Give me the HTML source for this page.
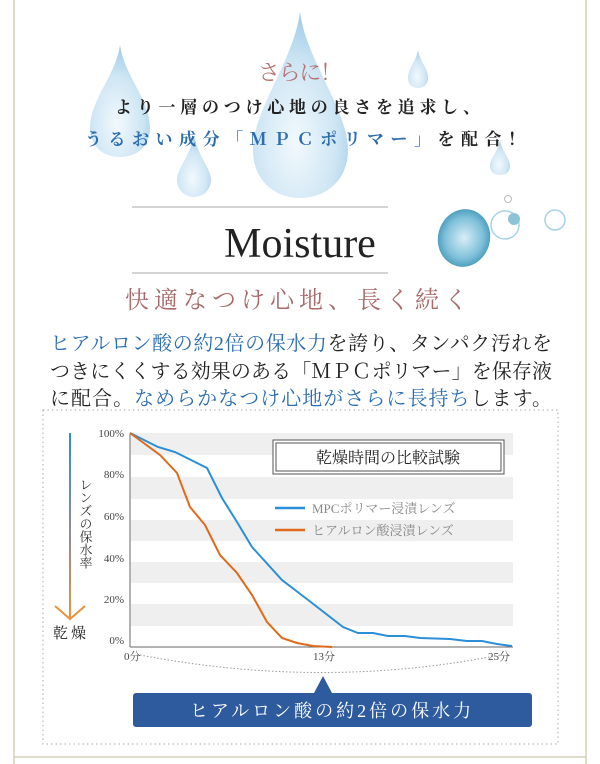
<!DOCTYPE html>
<html><head><meta charset="utf-8"><style>
html,body{margin:0;padding:0;background:#fff;width:600px;height:764px;overflow:hidden}
svg text{font-family:"Liberation Serif","Noto Serif CJK SC","Noto Sans CJK JP",serif}
</style></head><body>
<svg width="600" height="764" viewBox="0 0 600 764" xmlns="http://www.w3.org/2000/svg">
<defs>
<radialGradient id="dr" cx="0.45" cy="0.7" r="0.7">
<stop offset="0" stop-color="#f2f9fd"/><stop offset="0.6" stop-color="#cfe6f4"/><stop offset="1" stop-color="#9ccbe8"/>
</radialGradient>
<radialGradient id="bb" cx="0.5" cy="0.5" r="0.6">
<stop offset="0" stop-color="#d8eef6"/><stop offset="0.6" stop-color="#7fc0da"/><stop offset="1" stop-color="#2d87ad"/>
</radialGradient>
<linearGradient id="ar" gradientUnits="userSpaceOnUse" x1="0" y1="433" x2="0" y2="618">
<stop offset="0" stop-color="#2a8fd6"/><stop offset="0.5" stop-color="#8a8aa0"/><stop offset="1" stop-color="#e8923a"/>
</linearGradient>
</defs>
<line x1="14" y1="0" x2="14" y2="764" stroke="#d6d1bc" stroke-width="1.5"/>
<line x1="586" y1="0" x2="586" y2="764" stroke="#d6d1bc" stroke-width="1.5"/>
<line x1="14" y1="757" x2="586" y2="757" stroke="#d6d1bc" stroke-width="1.5"/>
<path d="M300 12 C306 60 348 110 348 150 C348 180 326 198 300 198 C274 198 253 180 253 150 C253 110 294 60 300 12Z" fill="url(#dr)"/>
<path d="M120 45 C124 75 150 100 150 128 C150 146 137 157 120 157 C103 157 90 146 90 128 C90 100 116 75 120 45Z" fill="url(#dr)"/>
<path d="M194 135 C197 155 211 168 211 180 C211 190 203 197 194 197 C185 197 177 190 177 180 C177 168 191 155 194 135Z" fill="url(#dr)"/>
<path d="M418 50 C420 62 428 68 428 78 C428 84 424 88 418 88 C412 88 408 84 408 78 C408 68 416 62 418 50Z" fill="url(#dr)"/>
<path d="M500 140 C502 152 510 158 510 166 C510 172 506 175 500 175 C494 175 490 172 490 166 C490 158 498 152 500 140Z" fill="url(#dr)"/>
<text x="258" y="80" font-size="22" fill="#b57272" textLength="84" lengthAdjust="spacing">さらに！</text>
<text x="115" y="113" font-size="17" fill="#222" font-weight="bold" textLength="365" lengthAdjust="spacing">より一層のつけ心地の良さを追求し、</text>
<text x="85" y="145" font-size="17" fill="#222" font-weight="bold" textLength="440" lengthAdjust="spacing"><tspan fill="#2a6db0">うるおい成分「ＭＰＣポリマー」</tspan>を配合！</text>
<line x1="132" y1="207" x2="388" y2="207" stroke="#bbb" stroke-width="1.2"/>
<line x1="132" y1="273" x2="388" y2="273" stroke="#bbb" stroke-width="1.2"/>
<text x="300" y="257" font-size="42" fill="#222" text-anchor="middle">Moisture</text>
<ellipse cx="464" cy="238" rx="26" ry="29" fill="url(#bb)" transform="rotate(15 464 238)"/>
<circle cx="505" cy="225" r="14" fill="none" stroke="#a8d2e3" stroke-width="1.5"/>
<circle cx="514" cy="219" r="6" fill="#8cc3d8"/>
<circle cx="555" cy="220" r="10" fill="none" stroke="#a8d2e3" stroke-width="1.5"/>
<circle cx="508" cy="199" r="3.5" fill="none" stroke="#bbb"/>
<text x="125" y="308" font-size="24" fill="#a86a6a" textLength="343" lengthAdjust="spacing">快適なつけ心地、長く続く</text>
<g font-size="20" fill="#222">
<text x="50" y="350" textLength="502" lengthAdjust="spacing"><tspan fill="#2a6db0">ヒアルロン酸の約2倍の保水力</tspan>を誇り、タンパク汚れを</text>
<text x="50" y="378" textLength="502" lengthAdjust="spacing">つきにくくする効果のある「ＭＰＣポリマー」を保存液</text>
<text x="50" y="405" textLength="502" lengthAdjust="spacing">に配合。<tspan fill="#2a6db0">なめらかなつけ心地がさらに長持ち</tspan>します。</text>
</g>
<rect x="43" y="410" width="515" height="334" fill="none" stroke="#aaa" stroke-dasharray="1.5,3"/>
<g fill="#efefef">
<rect x="131" y="433" width="382" height="22"/><rect x="131" y="477" width="382" height="22"/>
<rect x="131" y="520" width="382" height="21"/><rect x="131" y="562" width="382" height="21"/>
<rect x="131" y="604" width="382" height="22"/>
</g>
<line x1="130" y1="433" x2="130" y2="647" stroke="#666"/>
<line x1="130" y1="647" x2="513" y2="647" stroke="#666"/>
<g font-size="11" fill="#444" text-anchor="end">
<text x="124" y="437">100%</text><text x="124" y="478">80%</text><text x="124" y="520">60%</text>
<text x="124" y="562">40%</text><text x="124" y="603">20%</text><text x="124" y="644">0%</text>
</g>
<g font-size="11" fill="#444">
<text x="124" y="660">0分</text><text x="313" y="660">13分</text><text x="488" y="660">25分</text>
</g>
<path d="M140 655 Q323 690 500 655" fill="none" stroke="#999" stroke-dasharray="1.5,2"/>
<rect x="273" y="440" width="231" height="34" fill="#fff" stroke="#555"/>
<rect x="276" y="443" width="225" height="28" fill="none" stroke="#555"/>
<text x="388" y="463" font-size="16" fill="#222" text-anchor="middle">乾燥時間の比較試験</text>
<line x1="275" y1="508" x2="305" y2="508" stroke="#2a8fd6" stroke-width="2.5"/>
<line x1="275" y1="530" x2="305" y2="530" stroke="#e06a1a" stroke-width="2.5"/>
<text x="312" y="513" font-size="13" fill="#888">MPCポリマー浸漬レンズ</text>
<text x="312" y="535" font-size="13" fill="#888">ヒアルロン酸浸漬レンズ</text>
<polyline fill="none" stroke="#2a8fd6" stroke-width="2" points="130,433 158,447 175,452 207,468 222,498 237,522 252,547 282,580 312,603 343,627 358,633 373,633 388,636 405,636 420,638 450,639 467,641 482,641 497,644 512,646"/>
<polyline fill="none" stroke="#e06a1a" stroke-width="2" points="130,433 160,455 177,473 190,507 205,525 220,555 237,573 252,595 267,622 282,638 297,643 313,646 332,647"/>
<rect x="69" y="433" width="2" height="185" fill="url(#ar)"/>
<polyline points="55,606 70,619 85,606" fill="none" stroke="#e8923a" stroke-width="2"/>
<text font-size="13" fill="#333" x="85" y="478" writing-mode="tb">レンズの保水率</text>
<text x="53" y="638" font-size="15" fill="#222" letter-spacing="3">乾燥</text>
<polygon points="323,676 314,693 332,693" fill="#2e5b9e"/>
<rect x="133" y="693" width="399" height="34" rx="3" fill="#2e5b9e"/>
<text x="332" y="717" font-size="18" fill="#fff" text-anchor="middle" letter-spacing="3">ヒアルロン酸の約2倍の保水力</text>
</svg>
</body></html>
